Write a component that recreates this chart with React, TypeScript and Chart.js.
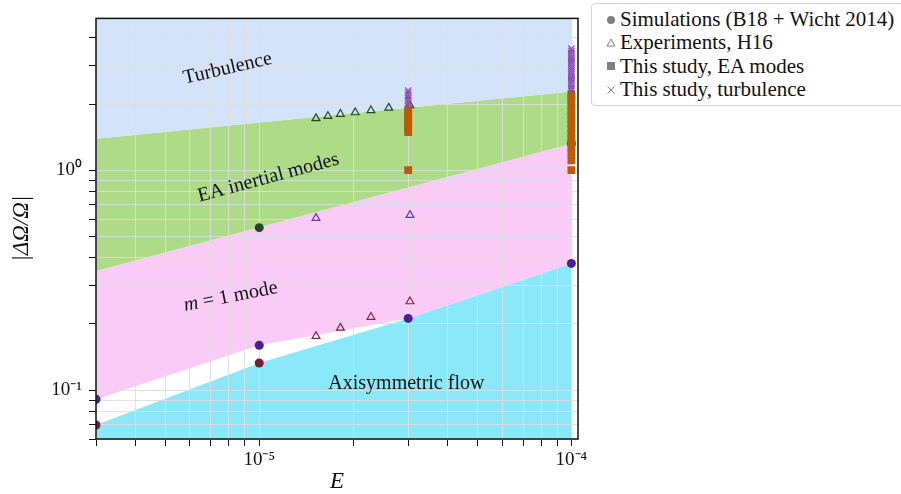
import React, { useEffect, useRef } from 'react';
import { Chart, registerables } from 'chart.js';
Chart.register(...registerables);

// ---- axes ----
const xMin = 3e-6;
const xMax = 1.05e-4;
const yMin = 0.06;
const yMax = 4.9;
const xTicks = [3e-6, 4e-6, 5e-6, 6e-6, 7e-6, 8e-6, 9e-6, 1e-5, 2e-5, 3e-5, 4e-5, 5e-5, 6e-5, 7e-5, 8e-5, 9e-5, 1e-4];
const yTicks = [0.06, 0.07, 0.08, 0.09, 0.1, 0.2, 0.3, 0.4, 0.5, 0.6, 0.7, 0.8, 0.9, 1, 2, 3, 4];
const xTickLabels: Record<string, string> = { '0.00001': '10⁻⁵', '0.0001': '10⁻⁴' };
const yTickLabels: Record<string, string> = { '0.1': '10⁻¹', '1': '10⁰' };

// ---- regime boundaries ----
const turbBoundE = [3e-6, 1e-4];
const turbBoundY = [1.39, 2.28];
const eaBoundE = [3e-6, 1e-4];
const eaBoundY = [0.348, 1.32];
const m1BoundE = [3e-6, 1e-5, 3e-5, 1e-4];
const m1BoundY = [0.091, 0.16, 0.212, 0.377];
const axiBoundE = [3e-6, 1e-5, 3e-5, 1e-4];
const axiBoundY = [0.0695, 0.133, 0.212, 0.377];

// ---- simulations (B18 + Wicht 2014) ----
const simPurpleE = [3e-6, 1e-5, 3e-5, 1e-4];
const simPurpleY = [0.091, 0.16, 0.212, 0.377];
const simRedE = [3e-6, 1e-5];
const simRedY = [0.0695, 0.133];
const simGreenE = [1e-5, 1e-4];
const simGreenY = [0.548, 1.32];

// ---- experiments, H16 ----
const expGreenE = [1.52e-5, 1.66e-5, 1.82e-5, 2.03e-5, 2.28e-5, 2.6e-5, 3.04e-5];
const expGreenY = [1.72, 1.76, 1.8, 1.83, 1.87, 1.92, 1.97];
const expPurpleE = [1.52e-5, 3.04e-5];
const expPurpleY = [0.606, 0.625];
const expRedE = [1.52e-5, 1.82e-5, 2.28e-5, 3.04e-5];
const expRedY = [0.176, 0.192, 0.215, 0.253];

// ---- this study ----
const eaModesE3 = 3e-5;
const eaModesY3 = [1.0, 1.49, 1.54, 1.59, 1.64, 1.7, 1.76, 1.82, 1.88];
const eaModesE4 = 1e-4;
const eaModesY4 = [1.0, 1.11, 1.2, 1.27, 1.33, 1.4, 1.47, 1.54, 1.62, 1.7, 1.78, 1.86, 1.95, 2.05, 2.14, 2.22];
const turbE3 = 3e-5;
const turbY3 = [1.96, 2.02, 2.08, 2.13, 2.18, 2.24, 2.3];
const turbE4 = 1e-4;
const turbY4 = [2.3, 2.36, 2.42, 2.48, 2.54, 2.6, 2.66, 2.72, 2.78, 2.84, 2.9, 2.96, 3.03, 3.1, 3.17, 3.24, 3.32, 3.4, 3.48, 3.57];

// ---- region labels ----
const regionLabels = [
  { parts: [{ t: 'Turbulence', it: false }], E: 7.92e-6, y: 2.9, angle: -13 },
  { parts: [{ t: 'EA inertial modes', it: false }], E: 1.07e-5, y: 0.924, angle: -15 },
  { parts: [{ t: 'm', it: true }, { t: ' = 1 mode', it: false }], E: 8.1e-6, y: 0.266, angle: -11 },
  { parts: [{ t: 'Axisymmetric flow', it: false }], E: 2.96e-5, y: 0.107, angle: 0 },
];

const legendItems = [
  { label: 'Simulations (B18 + Wicht 2014)', marker: 'circle' },
  { label: 'Experiments, H16', marker: 'triangle' },
  { label: 'This study, EA modes', marker: 'square' },
  { label: 'This study, turbulence', marker: 'cross' },
];

const SERIF = "'Liberation Serif', 'Times New Roman', serif";

const pts = (xs: number[], ys: number[]) => xs.map((x, i) => ({ x, y: ys[i] }));
const col = (x: number, ys: number[]) => ys.map((y) => ({ x, y }));

const isPow10 = (v: number) => Math.abs(Math.log10(v) - Math.round(Math.log10(v))) < 1e-9;

const regionLabelPlugin = {
  id: 'regionLabels',
  beforeDatasetsDraw(chart: any) {
    const { ctx, scales } = chart;
    ctx.save();
    ctx.fillStyle = '#111';
    ctx.textBaseline = 'middle';
    for (const lab of regionLabels) {
      const px = scales.x.getPixelForValue(lab.E);
      const py = scales.y.getPixelForValue(lab.y);
      const fonts = lab.parts.map((p) => `${p.it ? 'italic ' : ''}20px ${SERIF}`);
      let total = 0;
      const widths = lab.parts.map((p, i) => {
        ctx.font = fonts[i];
        const w = ctx.measureText(p.t).width;
        total += w;
        return w;
      });
      ctx.save();
      ctx.translate(px, py);
      ctx.rotate((lab.angle * Math.PI) / 180);
      let cx = -total / 2;
      ctx.textAlign = 'left';
      lab.parts.forEach((p, i) => {
        ctx.font = fonts[i];
        ctx.fillText(p.t, cx, 0);
        cx += widths[i];
      });
      ctx.restore();
    }
    ctx.restore();
  },
};

const framePlugin = {
  id: 'frame',
  afterDatasetsDraw(chart: any) {
    const { ctx, chartArea } = chart;
    ctx.save();
    ctx.strokeStyle = '#111';
    ctx.lineWidth = 1.5;
    ctx.strokeRect(chartArea.left, chartArea.top, chartArea.right - chartArea.left, chartArea.bottom - chartArea.top);
    ctx.restore();
  },
};

function Marker({ kind }: { kind: string }) {
  const c = '#808080';
  return (
    <svg width="12" height="12" viewBox="0 0 12 12" style={{ display: 'block' }}>
      {kind === 'circle' && <circle cx="6" cy="6" r="4" fill={c} />}
      {kind === 'triangle' && <polygon points="6,2 10,9 2,9" fill="none" stroke={c} strokeWidth="1" />}
      {kind === 'square' && <rect x="2" y="2" width="8" height="8" fill={c} />}
      {kind === 'cross' && (
        <g stroke={c} strokeWidth="1">
          <line x1="2.5" y1="2.5" x2="9.5" y2="9.5" />
          <line x1="9.5" y1="2.5" x2="2.5" y2="9.5" />
        </g>
      )}
    </svg>
  );
}

export default function App() {
  const ref = useRef<HTMLCanvasElement | null>(null);

  useEffect(() => {
    if (!ref.current) return;
    const fillLine = (data: any[], fill: any, color: string, order: number) => ({
      type: 'line' as const,
      data,
      fill,
      backgroundColor: color,
      borderColor: 'transparent',
      borderWidth: 0,
      pointRadius: 0,
      tension: 0,
      order,
    });
    const markers = (data: any[], style: string, radius: number, color: string, filled: boolean, order: number, bw = 1) => ({
      type: 'scatter' as const,
      data,
      pointStyle: style,
      pointRadius: radius,
      backgroundColor: filled ? color : 'transparent',
      borderColor: color,
      borderWidth: bw,
      clip: 0,
      order,
    });

    const chart = new Chart(ref.current, {
      type: 'scatter',
      data: {
        datasets: [
          markers(pts(simPurpleE, simPurpleY), 'circle', 4.5, '#4b1e96', true, 5, 0),
          markers(pts(simRedE, simRedY), 'circle', 4.5, '#7d1a2b', true, 5, 0),
          markers(pts(simGreenE, simGreenY), 'circle', 4.5, '#1f4a22', true, 6, 0),
          markers(pts(expGreenE, expGreenY), 'triangle', 4.5, '#1f4a22', false, 4, 1.2),
          markers(pts(expPurpleE, expPurpleY), 'triangle', 4.5, '#6a35ac', false, 4, 1.2),
          markers(pts(expRedE, expRedY), 'triangle', 4.5, '#8b2040', false, 4, 1.2),
          markers([...col(eaModesE3, eaModesY3), ...col(eaModesE4, eaModesY4)], 'rect', 5.5, '#bf5a00', true, 3, 0),
          markers([...col(turbE3, turbY3), ...col(turbE4, turbY4)], 'crossRot', 4.5, '#8d45b8', false, 2, 1.2),
          fillLine(pts(turbBoundE, turbBoundY), 'end', '#d3e3f9', 40),
          fillLine(pts(eaBoundE, eaBoundY), '-1', '#aedb87', 41),
          fillLine(pts(m1BoundE, m1BoundY), '-1', '#fbcbf8', 42),
          fillLine(pts(axiBoundE, axiBoundY), 'start', '#8ae8f8', 43),
        ] as any,
      },
      options: {
        animation: false,
        responsive: true,
        maintainAspectRatio: false,
        events: [],
        layout: { padding: { left: 0, top: 8, right: 323, bottom: 0 } },
        plugins: {
          legend: { display: false },
          tooltip: { enabled: false },
          filler: { drawTime: 'beforeDraw', propagate: false },
        } as any,
        scales: {
          x: {
            type: 'logarithmic',
            min: xMin,
            max: xMax,
            afterBuildTicks: (s: any) => {
              s.ticks = xTicks.map((v) => ({ value: v, major: isPow10(v) }));
            },
            afterFit: (s: any) => {
              s.height = 55;
            },
            border: { display: false },
            grid: { color: 'rgba(222,222,222,0.9)', tickColor: '#111', tickLength: 7, lineWidth: 1 },
            ticks: {
              autoSkip: false,
              maxRotation: 0,
              padding: 3,
              color: '#111',
              font: { family: SERIF, size: 19 },
              callback: (v: any) => (isPow10(Number(v)) ? xTickLabels[String(Number(v))] ?? '' : ''),
            },
            title: {
              display: true,
              text: 'E',
              color: '#111',
              font: { family: SERIF, size: 23, style: 'italic', lineHeight: 1 },
              padding: { top: 0, bottom: 0.5 },
            },
          },
          y: {
            type: 'logarithmic',
            min: yMin,
            max: yMax,
            afterBuildTicks: (s: any) => {
              s.ticks = yTicks.map((v) => ({ value: v, major: isPow10(v) }));
            },
            afterFit: (s: any) => {
              s.width = 96;
            },
            border: { display: false },
            grid: { color: 'rgba(222,222,222,0.9)', tickColor: '#111', tickLength: 7, lineWidth: 1 },
            ticks: {
              autoSkip: false,
              padding: 7,
              color: '#111',
              font: { family: SERIF, size: 19 },
              callback: (v: any) => (isPow10(Number(v)) ? yTickLabels[String(Number(v))] ?? '' : ''),
            },
            title: {
              display: true,
              text: '|ΔΩ/Ω|',
              color: '#111',
              font: { family: SERIF, size: 23, style: 'italic', lineHeight: 1 },
              padding: { top: 10.5, bottom: 0 },
            },
          },
        },
      } as any,
      plugins: [regionLabelPlugin, framePlugin],
    });
    return () => chart.destroy();
  }, []);

  return (
    <div style={{ position: 'absolute', left: 0, top: 0, width: 901, height: 494, background: '#fff' }}>
      <canvas ref={ref} />
      <div
        style={{
          position: 'absolute',
          left: 591,
          top: 3,
          width: 320,
          height: 103,
          border: '1px solid #d4d4d4',
          borderRadius: 4,
          background: '#fff',
          boxSizing: 'border-box',
        }}
      />
      {legendItems.map((it, i) => (
        <div
          key={it.label}
          style={{
            position: 'absolute',
            left: 605,
            top: 8 + i * 23.3,
            height: 23.3,
            display: 'flex',
            alignItems: 'center',
            whiteSpace: 'nowrap',
            fontFamily: SERIF,
            fontSize: 21,
            lineHeight: '23.3px',
            color: '#111',
          }}
        >
          <Marker kind={it.marker} />
          <span style={{ marginLeft: 3 }}>{it.label}</span>
        </div>
      ))}
    </div>
  );
}
